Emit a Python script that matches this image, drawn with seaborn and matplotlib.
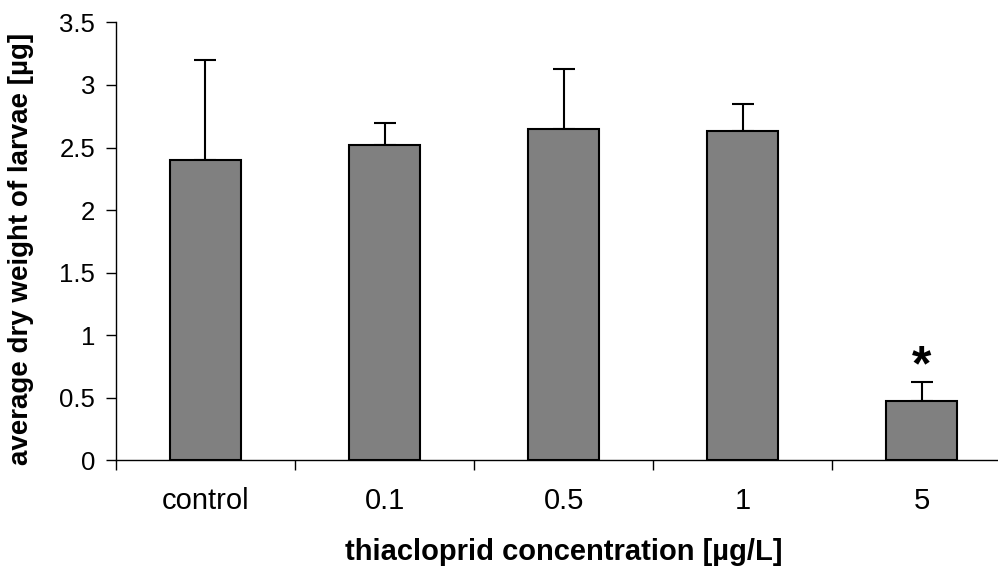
import numpy as np
import matplotlib
matplotlib.use("Agg")
import matplotlib.pyplot as plt
import seaborn as sns
import pandas as pd

categories = ["control", "0.1", "0.5", "1", "5"]
means = [2.40, 2.52, 2.65, 2.63, 0.475]
err_upper = [0.80, 0.18, 0.48, 0.22, 0.155]
y_ticks = [0, 0.5, 1, 1.5, 2, 2.5, 3, 3.5]
y_tick_labels = ["0", "0.5", "1", "1.5", "2", "2.5", "3", "3.5"]
significance = ["", "", "", "", "*"]

sns.set_style("white")
plt.rcParams["font.family"] = ["Liberation Sans", "DejaVu Sans"]
plt.rcParams["text.color"] = "black"
plt.rcParams["axes.labelcolor"] = "black"
plt.rcParams["xtick.color"] = "black"
plt.rcParams["ytick.color"] = "black"

df = pd.DataFrame({"conc": categories, "weight": means})

fig = plt.figure(figsize=(9.98, 5.69), dpi=100)
ax = fig.add_axes([0.1162, 0.1907, 0.897, 0.770])

sns.barplot(data=df, x="conc", y="weight", color="#808080", edgecolor="black",
            linewidth=1.5, width=0.4, saturation=1, ax=ax, zorder=3)
xpos = np.arange(len(categories))
ax.errorbar(xpos, means, yerr=[np.zeros(len(means)), err_upper], fmt="none",
            ecolor="black", elinewidth=1.5, capsize=8, capthick=1.5, zorder=2)

for i, s in enumerate(significance):
    if s:
        ax.text(i, means[i] + err_upper[i] + 0.01, s, ha="center", va="baseline",
                fontsize=36, fontweight="bold", color="black")

ax.set_xlim(-0.5, 4.5)
ax.set_ylim(0, 3.5)
ax.set_yticks(y_ticks)
ax.set_yticklabels(y_tick_labels, fontsize=18.5)
ax.set_xticks(xpos)
ax.set_xticklabels(categories, fontsize=21)
ax.set_xticks(np.arange(-0.5, 4.6, 1), minor=True)
ax.tick_params(axis="x", which="major", length=0, pad=19, bottom=True,
               labelcolor="black")
ax.tick_params(axis="x", which="minor", length=7, width=1, color="black",
               direction="out", bottom=True)
ax.tick_params(axis="y", which="major", length=7, width=1, color="black",
               direction="out", pad=8, left=True, labelcolor="black")

for side in ["top", "right"]:
    ax.spines[side].set_visible(False)
for side in ["left", "bottom"]:
    ax.spines[side].set_color("black")
    ax.spines[side].set_linewidth(1)

ax.set_xlabel("thiacloprid concentration [µg/L]", fontsize=21, fontweight="bold",
              labelpad=17, color="black")
ax.set_ylabel("average dry weight of larvae [µg]", fontsize=20, fontweight="bold",
              color="black")
ax.yaxis.set_label_coords(-0.092, 0.483)

fig.savefig("out.png", dpi=100)
